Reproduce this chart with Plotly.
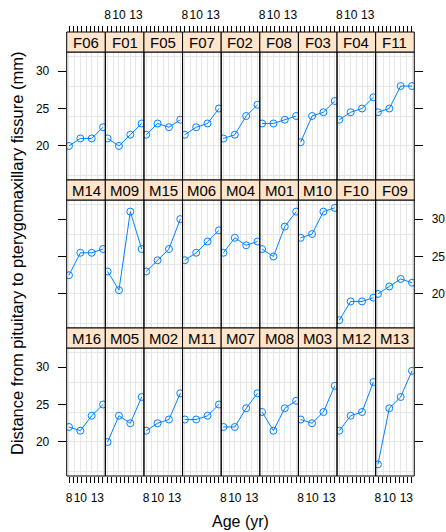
import plotly.graph_objects as go

# ---------------- data (Orthodont) ----------------
ages = [8, 10, 12, 14]

M01 = [26, 25, 29, 31]
M02 = [21.5, 22.5, 23, 26.5]
M03 = [23, 22.5, 24, 27.5]
M04 = [25.5, 27.5, 26.5, 27]
M05 = [20, 23.5, 22.5, 26]
M06 = [24.5, 25.5, 27, 28.5]
M07 = [22, 22, 24.5, 26.5]
M08 = [24, 21.5, 24.5, 25.5]
M09 = [23, 20.5, 31, 26]
M10 = [27.5, 28, 31, 31.5]
M11 = [23, 23, 23.5, 25]
M12 = [21.5, 23.5, 24, 28]
M13 = [17, 24.5, 26, 29.5]
M14 = [22.5, 25.5, 25.5, 26]
M15 = [23, 24.5, 26, 30]
M16 = [22, 21.5, 23.5, 25]
F01 = [21, 20, 21.5, 23]
F02 = [21, 21.5, 24, 25.5]
F03 = [20.5, 24, 24.5, 26]
F04 = [23.5, 24.5, 25, 26.5]
F05 = [21.5, 23, 22.5, 23.5]
F06 = [20, 21, 21, 22.5]
F07 = [21.5, 22.5, 23, 25]
F08 = [23, 23, 23.5, 24]
F09 = [20, 21, 22, 21.5]
F10 = [16.5, 19, 19, 19.5]
F11 = [24.5, 25, 28, 28]

row1 = ["F06", "F01", "F05", "F07", "F02", "F08", "F03", "F04", "F11"]
row2 = ["M14", "M09", "M15", "M06", "M04", "M01", "M10", "F10", "F09"]
row3 = ["M16", "M05", "M02", "M11", "M07", "M08", "M03", "M12", "M13"]

distance = {
    "M01": M01, "M02": M02, "M03": M03, "M04": M04, "M05": M05, "M06": M06,
    "M07": M07, "M08": M08, "M09": M09, "M10": M10, "M11": M11, "M12": M12,
    "M13": M13, "M14": M14, "M15": M15, "M16": M16,
    "F01": F01, "F02": F02, "F03": F03, "F04": F04, "F05": F05, "F06": F06,
    "F07": F07, "F08": F08, "F09": F09, "F10": F10, "F11": F11,
}

x_grid = [8, 9, 10, 11, 12, 13, 14]
x_tick_text = ["8", "", "10", "", "", "13", ""]
x_tick_marks = [8.02, 8.75, 9.5, 10.25, 11.02, 11.75, 12.5, 13.25, 13.98]
y_ticks = [20, 25, 30]
y_grid = [16, 20.02, 24, 28, 32]

# ---------------- layout geometry ----------------
W, H = 446, 532
LEFT, PW = 66.7, 38.62
TOP0, STRIP, PH = 32, 20, 128
XR = [7.6, 14.4]
YR = [15.45, 32.55]
BLUE = "#0080ff"
GRID = "#e6e6e6"
FONT = "Liberation Sans, Arial, sans-serif"

rows = [row1, row2, row3]
fig = go.Figure()
layout = dict(
    width=W, height=H, margin=dict(l=0, r=0, t=0, b=0),
    paper_bgcolor="white", plot_bgcolor="white", showlegend=False,
    font=dict(family=FONT, size=12, color="black"),
)
shapes, annotations = [], []

idx = 0
for r, names in enumerate(rows):
    strip_top = TOP0 + r * (STRIP + PH)
    p_top = strip_top + STRIP
    p_bot = p_top + PH
    for c, name in enumerate(names):
        idx += 1
        sfx = "" if idx == 1 else str(idx)
        x0 = LEFT + c * PW
        x1 = x0 + PW
        fig.add_trace(go.Scatter(
            x=ages, y=distance[name], mode="lines+markers",
            line=dict(color=BLUE, width=1),
            marker=dict(symbol="circle-open", size=7, color=BLUE, line=dict(width=1, color=BLUE)),
            xaxis="x" + sfx, yaxis="y" + sfx, hoverinfo="skip",
        ))
        xa = dict(
            domain=[x0 / W, x1 / W], range=XR, anchor="y" + sfx,
            tickmode="array", tickvals=x_grid, ticktext=x_tick_text, tickangle=0,
            ticks="", showgrid=True, gridcolor=GRID, gridwidth=1,
            zeroline=False, showline=False, showticklabels=False,
            tickfont=dict(size=12, family=FONT, color="black"),
            minor=dict(tickmode="array", tickvals=x_tick_marks, ticks="", showgrid=False),
        )
        mticks = dict(tickmode="array", tickvals=x_tick_marks, ticks="outside",
                      ticklen=6, tickcolor="black", tickwidth=1, showgrid=False)
        if r == 0:
            xa.update(anchor="free", position=1 - strip_top / H, side="top",
                      showticklabels=(c % 2 == 1), ticklabelstandoff=11, minor=mticks)
        elif r == 2:
            xa.update(side="bottom", showticklabels=(c % 2 == 0), ticklabelstandoff=13,
                      minor=mticks)
        ya = dict(
            domain=[1 - p_bot / H, 1 - p_top / H], range=YR, anchor="x" + sfx,
            tickmode="array", tickvals=y_ticks, ticks="", showgrid=False,
            zeroline=False, showline=False, showticklabels=False,
            tickfont=dict(size=12, family=FONT, color="black"),
            minor=dict(tickmode="array", tickvals=y_grid, ticks="", showgrid=True,
                       gridcolor=GRID, gridwidth=1),
        )
        if c == 0:
            ya.update(side="left", ticks="outside", ticklen=8, tickcolor="black",
                      showticklabels=(r != 1), ticklabelstandoff=6)
        elif c == len(names) - 1:
            ya.update(side="right", ticks="outside", ticklen=8, tickcolor="black",
                      showticklabels=(r == 1), ticklabelstandoff=6)
        layout["xaxis" + sfx] = xa
        layout["yaxis" + sfx] = ya

        # panel border
        shapes.append(dict(type="rect", xref="x" + sfx + " domain", yref="y" + sfx + " domain",
                           x0=0, x1=1, y0=0, y1=1, line=dict(color="black", width=1),
                           layer="above"))
        # strip
        shapes.append(dict(type="rect", xref="x" + sfx + " domain", yref="paper",
                           x0=0, x1=1, y0=1 - p_top / H, y1=1 - strip_top / H,
                           fillcolor="#ffe5cc", line=dict(color="black", width=1),
                           layer="above"))
        annotations.append(dict(text=name, xref="x" + sfx + " domain", yref="paper",
                                x=0.5, y=1 - (strip_top + STRIP / 2) / H,
                                xanchor="center", yanchor="middle", showarrow=False,
                                font=dict(size=15, family=FONT, color="black")))

# axis titles
annotations.append(dict(text="Age (yr)", xref="paper", yref="paper",
                        x=(LEFT + 4.5 * PW) / W, y=1 - 521 / H,
                        xanchor="center", yanchor="middle", showarrow=False,
                        font=dict(size=16, family=FONT, color="black")))
annotations.append(dict(text="Distance from pituitary to pterygomaxillary fissure (mm)",
                        xref="paper", yref="paper", x=17 / W, y=1 - 254 / H,
                        xanchor="center", yanchor="middle", showarrow=False, textangle=-90,
                        font=dict(size=16.5, family=FONT, color="black")))

layout["shapes"] = shapes
layout["annotations"] = annotations
fig.update_layout(**layout)
fig.write_html("out.html")
